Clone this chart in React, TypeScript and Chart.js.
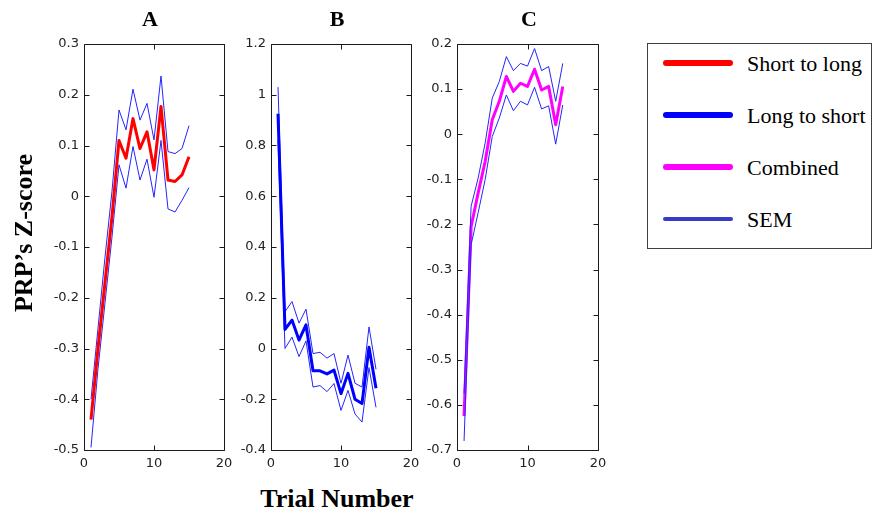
import React, { useEffect, useRef } from "react";
import { Chart, registerables } from "chart.js";

Chart.register(...registerables);

// ---------------- data ----------------
const TRIALS = [1, 2, 3, 4, 5, 6, 7, 8, 9, 10, 11, 12, 13, 14, 15];

// Panel A: Short to long
const A_MEAN = [-0.44, -0.3, -0.17, -0.04, 0.11, 0.075, 0.153, 0.094, 0.127, 0.052, 0.177, 0.032, 0.029, 0.042, 0.078];
const A_UPPER = [-0.4, -0.26, -0.12, 0.01, 0.17, 0.131, 0.211, 0.15, 0.183, 0.111, 0.237, 0.088, 0.084, 0.094, 0.139];
const A_LOWER = [-0.495, -0.34, -0.21, -0.08, 0.062, 0.016, 0.098, 0.032, 0.073, -0.002, 0.11, -0.025, -0.031, -0.008, 0.017];

// Panel B: Long to short
const B_MEAN = [0.925, 0.075, 0.112, 0.033, 0.093, -0.088, -0.088, -0.1, -0.085, -0.178, -0.098, -0.2, -0.217, 0.005, -0.157];
const B_UPPER = [1.03, 0.145, 0.185, 0.1, 0.155, -0.02, -0.015, -0.038, -0.02, -0.137, -0.026, -0.137, -0.152, 0.085, -0.082];
const B_LOWER = [0.82, 0.0, 0.045, -0.032, 0.03, -0.152, -0.146, -0.17, -0.138, -0.244, -0.165, -0.258, -0.29, -0.075, -0.232];

// Panel C: Combined
const C_MEAN = [-0.625, -0.205, -0.13, -0.06, 0.032, 0.073, 0.128, 0.095, 0.113, 0.106, 0.144, 0.098, 0.106, 0.021, 0.106];
const C_UPPER = [-0.575, -0.16, -0.097, -0.019, 0.08, 0.117, 0.172, 0.141, 0.157, 0.151, 0.19, 0.141, 0.15, 0.073, 0.157];
const C_LOWER = [-0.68, -0.245, -0.174, -0.1, -0.005, 0.036, 0.087, 0.052, 0.073, 0.065, 0.104, 0.056, 0.063, -0.022, 0.065];

// tick labels
const X_TICKS = [0, 10, 20];
const A_Y_TICKS = [-0.5, -0.4, -0.3, -0.2, -0.1, 0, 0.1, 0.2, 0.3];
const B_Y_TICKS = [-0.4, -0.2, 0, 0.2, 0.4, 0.6, 0.8, 1, 1.2];
const C_Y_TICKS = [-0.7, -0.6, -0.5, -0.4, -0.3, -0.2, -0.1, 0, 0.1, 0.2];

const PANEL_TITLES = ["A", "B", "C"];
const LEGEND_LABELS = ["Short to long", "Long to short", "Combined", "SEM"];
const Y_TITLE = "PRP\u2019s Z-score";
const X_TITLE = "Trial Number";

// ---------------- styles ----------------
const RED = "#ff0000";
const BLUE = "#0000ff";
const MAGENTA = "#ff00ff";
const SEM_BLUE = "#2424ff";
const AXIS_COLOR = "#1a1a1a";
const TICK_FONT = { family: "'DejaVu Sans', sans-serif", size: 13 };
const SERIF = "'Liberation Serif', 'Times New Roman', serif";

const AXIS_W = 50;
const TOP_PAD = 15;
const RIGHT_PAD = 15;
const BOTTOM_H = 30;

const fmt = (v: any) => String(Math.round(Number(v) * 100) / 100);

const boxPlugin = {
  id: "matlabBox",
  afterDraw(chart: any) {
    const { ctx, chartArea } = chart;
    const l = Math.round(chartArea.left) + 0.5;
    const r = Math.round(chartArea.right) + 0.5;
    const t = Math.round(chartArea.top) + 0.5;
    const b = Math.round(chartArea.bottom) + 0.5;
    ctx.save();
    ctx.strokeStyle = AXIS_COLOR;
    ctx.lineWidth = 1;
    ctx.beginPath();
    ctx.rect(l, t, r - l, b - t);
    const xs = chart.scales.x;
    const ys = chart.scales.y;
    const len = 5;
    xs.ticks.forEach((tk: any) => {
      const px = Math.round(xs.getPixelForValue(tk.value)) + 0.5;
      ctx.moveTo(px, b);
      ctx.lineTo(px, b - len);
      ctx.moveTo(px, t);
      ctx.lineTo(px, t + len);
    });
    ys.ticks.forEach((tk: any) => {
      const py = Math.round(ys.getPixelForValue(tk.value)) + 0.5;
      ctx.moveTo(l, py);
      ctx.lineTo(l + len, py);
      ctx.moveTo(r, py);
      ctx.lineTo(r - len, py);
    });
    ctx.stroke();
    ctx.restore();
  },
};

type PanelProps = {
  left: number;
  top: number;
  right: number;
  bottom: number;
  mean: number[];
  upper: number[];
  lower: number[];
  color: string;
  yTicks: number[];
  semOnTop?: boolean;
};

function Panel(p: PanelProps) {
  const ref = useRef<HTMLCanvasElement | null>(null);
  const plotW = p.right - p.left;
  const plotH = p.bottom - p.top;
  const cw = plotW + AXIS_W + RIGHT_PAD;
  const ch = plotH + TOP_PAD + BOTTOM_H;

  useEffect(() => {
    if (!ref.current) return;
    const pts = (arr: number[]) => TRIALS.map((t, i) => ({ x: t, y: arr[i] }));
    const yMin = p.yTicks[0];
    const yMax = p.yTicks[p.yTicks.length - 1];
    const chart = new Chart(ref.current, {
      type: "line",
      data: {
        datasets: [
          {
            data: pts(p.mean),
            borderColor: p.color,
            borderWidth: 3,
            order: p.semOnTop ? 2 : 0,
          },
          { data: pts(p.upper), borderColor: SEM_BLUE, borderWidth: 1, order: 1 },
          { data: pts(p.lower), borderColor: SEM_BLUE, borderWidth: 1, order: 1 },
        ],
      },
      options: {
        responsive: false,
        maintainAspectRatio: false,
        animation: false,
        events: [],
        layout: { padding: 0 },
        elements: {
          point: { radius: 0 },
          line: { tension: 0, fill: false, borderJoinStyle: "round" },
        },
        plugins: {
          legend: { display: false },
          tooltip: { enabled: false },
          title: { display: false },
        },
        scales: {
          x: {
            type: "linear",
            position: "bottom",
            min: X_TICKS[0],
            max: X_TICKS[X_TICKS.length - 1],
            afterBuildTicks: (s: any) => {
              s.ticks = X_TICKS.map((v) => ({ value: v }));
            },
            afterFit: (s: any) => {
              s.height = BOTTOM_H;
            },
            grid: { display: false, drawTicks: false },
            border: { display: false },
            ticks: {
              font: TICK_FONT,
              color: "#222",
              padding: 6,
              maxRotation: 0,
              autoSkip: false,
              callback: fmt,
            },
          },
          y: {
            type: "linear",
            position: "left",
            min: yMin,
            max: yMax,
            afterBuildTicks: (s: any) => {
              s.ticks = p.yTicks.map((v) => ({ value: v }));
            },
            afterFit: (s: any) => {
              s.width = AXIS_W;
            },
            grid: { display: false, drawTicks: false },
            border: { display: false },
            ticks: {
              font: TICK_FONT,
              color: "#222",
              padding: 5,
              autoSkip: false,
              callback: fmt,
            },
          },
          xTop: {
            type: "linear",
            position: "top",
            min: 0,
            max: 1,
            afterFit: (s: any) => {
              s.height = TOP_PAD;
            },
            grid: { display: false, drawTicks: false },
            border: { display: false },
            ticks: { display: false },
          },
          yRight: {
            type: "linear",
            position: "right",
            min: 0,
            max: 1,
            afterFit: (s: any) => {
              s.width = RIGHT_PAD;
            },
            grid: { display: false, drawTicks: false },
            border: { display: false },
            ticks: { display: false },
          },
        },
      } as any,
      plugins: [boxPlugin],
    });
    return () => chart.destroy();
  }, []);

  return (
    <canvas
      ref={ref}
      width={cw}
      height={ch}
      style={{
        position: "absolute",
        left: p.left - AXIS_W,
        top: p.top - TOP_PAD,
        width: cw,
        height: ch,
      }}
    />
  );
}

export default function App() {
  const titleCenters = [150, 337, 529];
  const legendColors = [RED, BLUE, MAGENTA, "#3a3ac8"];
  const legendThick = [6, 6, 6, 4];
  return (
    <div
      style={{
        position: "absolute",
        left: 0,
        top: 0,
        width: 876,
        height: 514,
        background: "#ffffff",
        overflow: "hidden",
      }}
    >
      <Panel left={84} top={44} right={224} bottom={450} mean={A_MEAN} upper={A_UPPER} lower={A_LOWER} color={RED} yTicks={A_Y_TICKS} />
      <Panel left={271} top={44} right={411} bottom={450} mean={B_MEAN} upper={B_UPPER} lower={B_LOWER} color={BLUE} yTicks={B_Y_TICKS} />
      <Panel left={457} top={44} right={598} bottom={450} mean={C_MEAN} upper={C_UPPER} lower={C_LOWER} color={MAGENTA} yTicks={C_Y_TICKS} semOnTop />

      {PANEL_TITLES.map((t, i) => (
        <div
          key={t}
          style={{
            position: "absolute",
            left: titleCenters[i] - 30,
            top: 8,
            width: 60,
            textAlign: "center",
            font: `bold 22px ${SERIF}`,
            lineHeight: "22px",
            color: "#000",
          }}
        >
          {t}
        </div>
      ))}

      <div
        style={{
          position: "absolute",
          left: 24 - 110,
          top: 233 - 13,
          width: 220,
          height: 26,
          textAlign: "center",
          font: `bold 26px ${SERIF}`,
          lineHeight: "26px",
          whiteSpace: "nowrap",
          transform: "rotate(-90deg)",
          color: "#000",
        }}
      >
        {Y_TITLE}
      </div>

      <div
        style={{
          position: "absolute",
          left: 337 - 120,
          top: 486,
          width: 240,
          textAlign: "center",
          font: `bold 26px ${SERIF}`,
          lineHeight: "26px",
          whiteSpace: "nowrap",
          color: "#000",
        }}
      >
        {X_TITLE}
      </div>

      <div
        style={{
          position: "absolute",
          left: 647,
          top: 43,
          width: 225,
          height: 206,
          boxSizing: "border-box",
          border: "1px solid #404040",
        }}
      />
      {LEGEND_LABELS.map((lab, i) => {
        const cy = 63 + i * 52;
        const th = legendThick[i];
        return (
          <React.Fragment key={lab}>
            <div
              style={{
                position: "absolute",
                left: 663,
                top: cy - th / 2,
                width: 70,
                height: th,
                borderRadius: th / 2,
                background: legendColors[i],
              }}
            />
            <div
              style={{
                position: "absolute",
                left: 747,
                top: cy + 8 - 18.4,
                font: `22px ${SERIF}`,
                lineHeight: "22px",
                whiteSpace: "nowrap",
                color: "#000",
              }}
            >
              {lab}
            </div>
          </React.Fragment>
        );
      })}
    </div>
  );
}
